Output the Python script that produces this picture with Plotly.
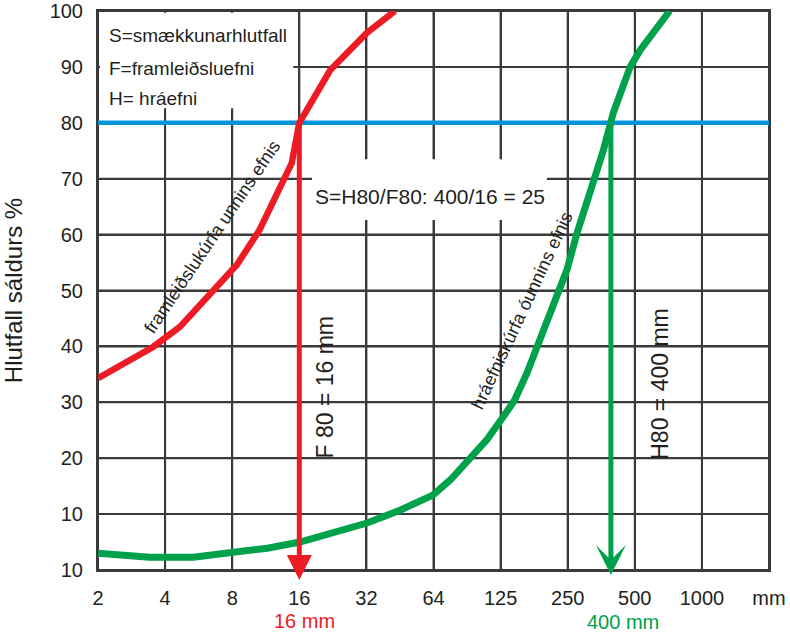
import math
import plotly.graph_objects as go

# ---------------- data ----------------
# x axis: sieve sizes (mm), log2 spaced
x_tickvals = [2, 4, 8, 16, 32, 64, 128, 256, 512, 1024, 2048]
x_ticktext = ["2", "4", "8", "16", "32", "64", "125", "250", "500", "1000", "mm"]
# y axis: passing %
y_tickvals = [0, 10, 20, 30, 40, 50, 60, 70, 80, 90, 100]
y_ticktext = ["10", "10", "20", "30", "40", "50", "60", "70", "80", "90", "100"]

# framleiðslukúrfa unnins efnis (product curve, red)
red_size = [2, 3.53, 4.66, 8.4, 10.6, 13.5, 14.8, 16, 17.9, 22, 32.2, 43]
red_pass = [34.3, 39.9, 43.5, 54.6, 60.8, 69.2, 72.8, 80, 83.5, 89.4, 96.1, 100]

# hráefniskúrfa óunnins efnis (feed curve, green)
green_size = [2, 3.41, 5.35, 11.5, 16.1, 32.2, 45.3, 63.6, 76.1, 111, 131.6,
              148, 168, 254, 282, 322, 370, 410, 488, 541, 734]
green_pass = [3.0, 2.3, 2.3, 3.9, 5.0, 8.4, 10.7, 13.4, 16.1, 23.3, 27.4,
              30.4, 35.2, 53.7, 60.3, 67.4, 75.1, 81.8, 90.0, 93.0, 100]

level = 80          # 80 % passing
F80 = 16            # mm
H80 = 400           # mm
arrow_tip_red = -1.8
arrow_tip_green = -0.9

RED = "#ED1C24"
GREEN = "#00A14B"
BLUE = "#0095DA"
INK = "#231F20"
GRID = "#3a3a3a"
FONT = "Liberation Sans, Arial, sans-serif"

x_lo, x_hi = x_tickvals[0], x_tickvals[-1]
y_lo, y_hi = y_tickvals[0], y_tickvals[-1]

fig = go.Figure()

# grid lines, one trace each, built from the tick arrays
for v in x_tickvals:
    fig.add_trace(go.Scatter(x=[v, v], y=[y_lo, y_hi], mode="lines",
                             line=dict(color=GRID, width=2), hoverinfo="skip"))
for v in y_tickvals:
    fig.add_trace(go.Scatter(x=[x_lo, x_hi], y=[v, v], mode="lines",
                             line=dict(color=GRID, width=2), hoverinfo="skip"))

# blue 80 % line
fig.add_trace(go.Scatter(x=[x_lo, x_hi], y=[level, level],
                         mode="lines", line=dict(color=BLUE, width=4.5),
                         hoverinfo="skip"))
# curves
fig.add_trace(go.Scatter(x=red_size, y=red_pass, mode="lines",
                         line=dict(color=RED, width=6.5), hoverinfo="skip"))
fig.add_trace(go.Scatter(x=green_size, y=green_pass, mode="lines",
                         line=dict(color=GREEN, width=7), hoverinfo="skip"))

# white boxes that interrupt the grid behind text blocks
shapes = [
    dict(type="rect", xref="paper", yref="paper", x0=0.003, x1=0.291, y0=0.826, y1=0.997,
         fillcolor="white", line=dict(width=0), layer="above"),
    dict(type="rect", xref="paper", yref="paper", x0=0.319, x1=0.669, y0=0.626, y1=0.735,
         fillcolor="white", line=dict(width=0), layer="above"),
]

ann = []
# vertical arrows (tail on the 80 % line, head below the axis)
ann.append(dict(x=math.log10(F80), y=arrow_tip_red, xref="x", yref="y",
                ax=math.log10(F80), ay=level, axref="x", ayref="y",
                text="", showarrow=True, arrowhead=2, arrowsize=1.0,
                arrowwidth=5, arrowcolor=RED))
ann.append(dict(x=math.log10(H80), y=arrow_tip_green, xref="x", yref="y",
                ax=math.log10(H80), ay=level, axref="x", ayref="y",
                text="", showarrow=True, arrowhead=3, arrowsize=1.0,
                arrowwidth=5, arrowcolor=GREEN))

def txt(text, x, y, size, color=INK, xref="paper", yref="paper", angle=0,
        xanchor="center", yanchor="middle", xshift=0, yshift=0):
    ann.append(dict(text=text, x=x, y=y, xref=xref, yref=yref, showarrow=False,
                    textangle=angle, xanchor=xanchor, yanchor=yanchor,
                    xshift=xshift, yshift=yshift,
                    font=dict(family=FONT, size=size, color=color)))

txt("S=smækkunarhlutfall", 0.0134, 0.957, 19, xanchor="left")
txt("F=framleiðsluefni", 0.0134, 0.898, 19, xanchor="left")
txt("H= hráefni", 0.0134, 0.844, 19, xanchor="left")
txt("S=H80/F80: 400/16 = 25", 0.32, 0.669, 21, xanchor="left")
txt("F 80 = 16 mm", math.log10(F80), 32.7, 23, xref="x", yref="y", angle=-90, xshift=26)
txt("H80 = 400 mm", math.log10(H80), 33.3, 23, xref="x", yref="y", angle=-90, xshift=49)
txt("framleiðslukúrfa unnins efnis", 0.17, 0.596, 18, angle=-56)
txt("hráefniskúrfa óunnins efnis", 0.632, 0.463, 18, angle=-65)
txt("16 mm", math.log10(F80), -0.091, 20, color=RED, xref="x", xshift=5)
txt("400 mm", math.log10(H80), -0.093, 20, color=GREEN, xref="x", xshift=12)

axis_common = dict(showgrid=True, gridcolor=GRID, gridwidth=2, showline=True,
                   mirror=True, linecolor=GRID, linewidth=2,
                   ticks="outside", tickcolor="rgba(0,0,0,0)",
                   zeroline=False, automargin=False, ticklabeloverflow="allow",
                   tickfont=dict(family=FONT, size=20, color=INK))

fig.update_layout(
    width=790, height=633,
    margin=dict(l=98, r=21, t=11, b=63),
    paper_bgcolor="white", plot_bgcolor="white",
    showlegend=False,
    shapes=shapes, annotations=ann,
    xaxis=dict(type="log", range=[math.log10(x_lo), math.log10(x_hi)],
               tickmode="array", tickvals=x_tickvals, ticktext=x_ticktext,
               ticklen=9, **axis_common),
    yaxis=dict(range=[y_lo, y_hi], tickmode="array", tickvals=y_tickvals, ticktext=y_ticktext,
               ticklen=9,
               title=dict(text="Hlutfall sáldurs %", standoff=22,
                          font=dict(family=FONT, size=24, color=INK)),
               **axis_common),
)

fig.write_html("out.html", config={"displayModeBar": False},
               post_script="document.body.style.margin='0';")
